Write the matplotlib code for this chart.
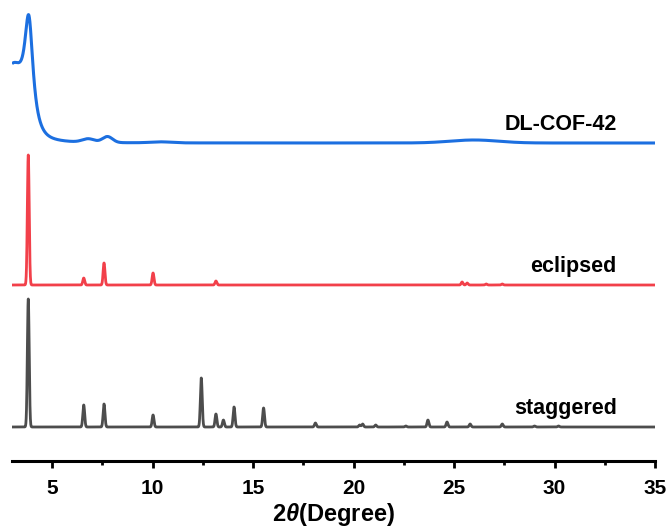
import numpy as np
import matplotlib
matplotlib.use('Agg')
import matplotlib.pyplot as plt
from matplotlib.ticker import MultipleLocator

plt.rcParams['font.family'] = ['Liberation Sans', 'DejaVu Sans']
plt.rcParams['font.weight'] = 'bold'
plt.rcParams['mathtext.fontset'] = 'custom'
plt.rcParams['mathtext.it'] = 'Liberation Sans:italic:bold'
plt.rcParams['mathtext.rm'] = 'Liberation Sans:bold'

# peak lists (2theta, intensity in a.u.)
stag_pos = [3.81, 6.57, 7.58, 10.02, 12.42, 13.15, 13.52, 14.05, 15.52, 18.1,
            20.3, 20.45, 21.1, 22.6, 23.7, 24.65, 25.8, 27.4, 29.0, 30.2]
stag_int = [128, 22, 23, 12, 49, 13, 7, 20, 19, 4,
            2, 3, 2, 1, 7, 5, 3, 3, 1, 1]

ecl_pos = [3.81, 6.57, 7.58, 10.02, 13.15, 25.4, 25.65, 26.6, 27.4]
ecl_int = [130, 7, 22, 12, 4, 3, 2, 1, 1]

blue_pos = [3.0, 3.84, 6.8, 7.75, 10.4, 26.0]
blue_int = [70, 106, 3.5, 6, 1, 3]
blue_wid = [0.55, 0.26, 0.3, 0.25, 0.5, 1.2]
blue_shape = ['g', 'l', 'g', 'g', 'g', 'g']

labels = ['staggered', 'eclipsed', 'DL-COF-42']
offsets = [34, 176, 318]
colors = ['#4d4d4d', '#f2404a', '#1c6fe0']


def pattern(x, pos, inten, wid, shape):
    y = np.zeros_like(x)
    for p, h, w, s in zip(pos, inten, wid, shape):
        if s == 'l':
            y += h / (1 + ((x - p) / w) ** 2)
        else:
            y += h * np.exp(-0.5 * ((x - p) / w) ** 2)
    return y


x = np.linspace(3, 35, 6401)
stag = pattern(x, stag_pos, stag_int, [0.045] * len(stag_pos), ['g'] * len(stag_pos))
ecl = pattern(x, ecl_pos, ecl_int, [0.045] * len(ecl_pos), ['g'] * len(ecl_pos))
blue = pattern(x, blue_pos, blue_int, blue_wid, blue_shape)

fig = plt.figure(figsize=(6.71, 5.27), dpi=100)
ax = fig.add_axes([12 / 671, 66 / 527, 643 / 671, 461 / 527])

for y, off, c, lw in zip([stag, ecl, blue], offsets, colors, [2.0, 2.0, 2.2]):
    ax.plot(x, y + off, color=c, lw=lw, solid_capstyle='butt')

for lab, off in zip(labels, offsets):
    ax.text(33.1, off + 13, lab, ha='right', va='baseline', fontsize=15.5,
            fontweight='bold')

ax.set_xlim(3, 35)
ax.set_ylim(0, 461)
for s in ['top', 'left', 'right']:
    ax.spines[s].set_visible(False)
ax.spines['bottom'].set_linewidth(2.2)
ax.set_yticks([])
ax.xaxis.set_major_locator(MultipleLocator(5))
ax.xaxis.set_minor_locator(MultipleLocator(2.5))
ax.tick_params(axis='x', which='major', length=5, width=2, labelsize=15, pad=8)
ax.tick_params(axis='x', which='minor', length=3, width=2)
ax.set_xticks([5, 10, 15, 20, 25, 30, 35])
ax.set_xlabel(r'2$\theta$(Degree)', fontsize=17, fontweight='bold', labelpad=2)

fig.savefig('out.png', dpi=100)
